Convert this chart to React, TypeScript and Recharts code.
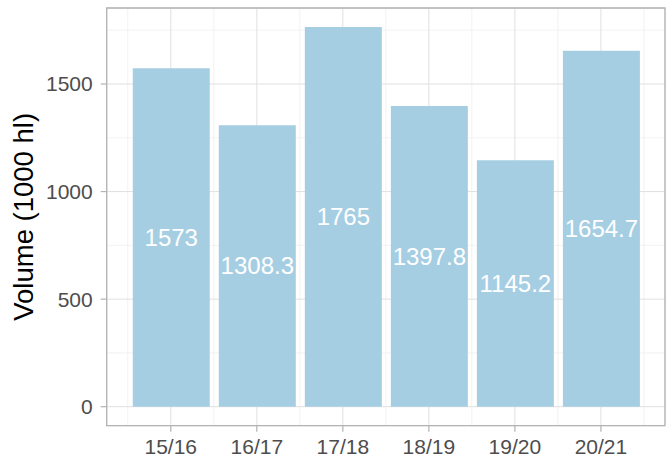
import React from "react";
import {
  BarChart,
  Bar,
  XAxis,
  YAxis,
  CartesianGrid,
  ReferenceArea,
  LabelList,
} from "recharts";

const seasons = ["15/16", "16/17", "17/18", "18/19", "19/20", "20/21"];
const volumes = [1573, 1308.3, 1765, 1397.8, 1145.2, 1654.7];
const yTicks = [0, 500, 1000, 1500];
const yMinor = [250, 750, 1250, 1750];
const xMinor = [0.5, 1.5, 2.5, 3.5, 4.5, 5.5, 6.5];

const data = seasons.map((season, i) => ({
  pos: i + 1,
  season,
  volume: volumes[i],
}));

const FONT = "'Liberation Sans', Arial, sans-serif";
const X_DOMAIN: [number, number] = [0.255, 6.745];
const Y_DOMAIN: [number, number] = [-88.25, 1853.25];

const MidLabel = (props: any) => {
  const { x, y, width, height, value } = props;
  return (
    <text
      x={x + width / 2}
      y={y + height / 2}
      textAnchor="middle"
      dominantBaseline="central"
      fill="#ffffff"
      fontSize={24}
      fontFamily={FONT}
    >
      {value}
    </text>
  );
};

// minor grid lines: use the axis scale when we get one, else map the domain onto the plot box
const minorH = ({ yAxis, offset }: any) => {
  if (yAxis && typeof yAxis.scale === "function") return yMinor.map((v) => yAxis.scale(v));
  const [lo, hi] = Y_DOMAIN;
  return yMinor.map((v) => offset.top + ((hi - v) / (hi - lo)) * offset.height);
};
const minorV = ({ xAxis, offset }: any) => {
  if (xAxis && typeof xAxis.scale === "function") return xMinor.map((v) => xAxis.scale(v));
  const [lo, hi] = X_DOMAIN;
  return xMinor.map((v) => offset.left + ((v - lo) / (hi - lo)) * offset.width);
};

export default function App() {
  return (
    <div style={{ position: "absolute", left: 0, top: 0, background: "#fff" }}>
      <BarChart
        width={672}
        height={459}
        data={data}
        margin={{ top: 8, right: 7, left: 0, bottom: 0 }}
      >
        <CartesianGrid
          stroke="#efefef"
          strokeWidth={0.8}
          horizontalCoordinatesGenerator={minorH}
          verticalCoordinatesGenerator={minorV}
        />
        <CartesianGrid stroke="#e0e0e0" strokeWidth={1} />
        <XAxis
          dataKey="pos"
          type="number"
          domain={X_DOMAIN}
          ticks={[1, 2, 3, 4, 5, 6]}
          allowDataOverflow
          tickFormatter={(v: number) => seasons[v - 1]}
          height={33.3}
          tickSize={6}
          tickMargin={7}
          axisLine={false}
          tickLine={{ stroke: "#b3b3b3", strokeWidth: 1.2 }}
          tick={{ fill: "#4d4d4d", fontSize: 21, fontFamily: FONT }}
        />
        <YAxis
          type="number"
          domain={Y_DOMAIN}
          ticks={yTicks}
          allowDataOverflow
          width={106.7}
          tickSize={6}
          tickMargin={8}
          axisLine={false}
          tickLine={{ stroke: "#b3b3b3", strokeWidth: 1.2 }}
          tick={{ fill: "#4d4d4d", fontSize: 21, fontFamily: FONT }}
          label={{
            value: "Volume (1000 hl)",
            angle: -90,
            position: "insideLeft",
            offset: 23,
            style: {
              textAnchor: "middle",
              fill: "#000000",
              fontSize: 27.5,
              fontFamily: FONT,
            },
          }}
        />
        <Bar
          dataKey="volume"
          fill="#a6cee3"
          barSize={77}
          isAnimationActive={false}
        >
          <LabelList dataKey="volume" content={<MidLabel />} />
        </Bar>
        <ReferenceArea
          x1={X_DOMAIN[0]}
          x2={X_DOMAIN[1]}
          y1={Y_DOMAIN[0]}
          y2={Y_DOMAIN[1]}
          fill="none"
          fillOpacity={0}
          stroke="#b3b3b3"
          strokeWidth={1.3}
        />
      </BarChart>
    </div>
  );
}
